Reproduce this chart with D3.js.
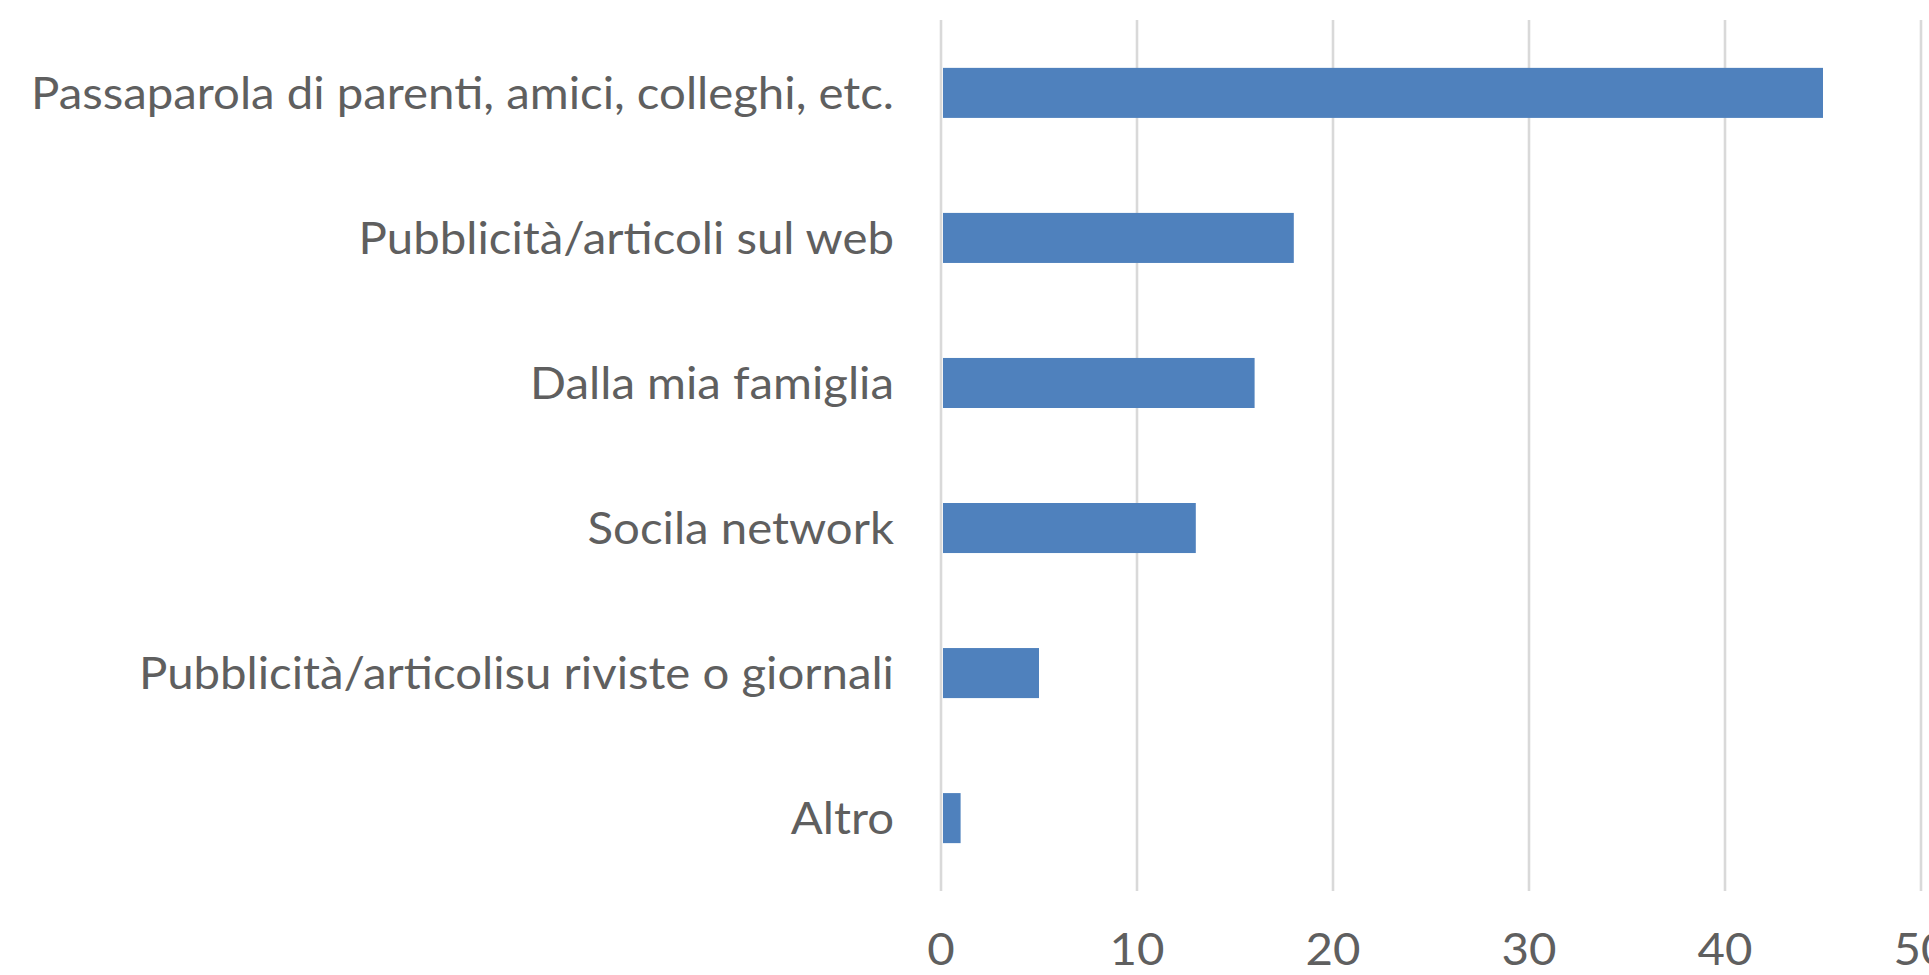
<!DOCTYPE html>
<html>
<head>
<meta charset="utf-8">
<script src="https://cdn.jsdelivr.net/npm/d3@7"></script>
<style>
  html, body { margin: 0; padding: 0; background: #fff; overflow: hidden; }
  text { font-family: Lato, "Open Sans", sans-serif; fill: #5f5f5f; }
</style>
</head>
<body>
<svg width="1929" height="975"></svg>
<script>
// data
const categories = [
  "Passaparola di parenti, amici, colleghi, etc.",
  "Pubblicità/articoli sul web",
  "Dalla mia famiglia",
  "Socila network",
  "Pubblicità/articolisu riviste o giornali",
  "Altro"
];
const values = [45, 18, 16, 13, 5, 1];
const xTicks = [0, 10, 20, 30, 40, 50];

const svg = d3.select("svg");
const plotLeft = 941, plotRight = 1921, plotTop = 20, plotBottom = 891;

const x = d3.scaleLinear().domain([0, 50]).range([plotLeft, plotRight]);
const y = d3.scaleBand().domain(categories).range([plotTop, plotBottom]).paddingInner(0.655).paddingOuter(0.33);

// gridlines
svg.append("g").selectAll("line")
  .data(xTicks)
  .join("line")
    .attr("x1", d => x(d)).attr("x2", d => x(d))
    .attr("y1", plotTop).attr("y2", plotBottom)
    .attr("stroke", "#d9d9d9")
    .attr("stroke-width", 2.6);

// bars
svg.append("g").selectAll("rect")
  .data(categories)
  .join("rect")
    .attr("x", x(0) + 2)
    .attr("y", d => y(d))
    .attr("width", (d, i) => x(values[i]) - x(0) - 2)
    .attr("height", y.bandwidth())
    .attr("fill", "#4f81bd");

// category labels
const fs = 44;
const labels = svg.append("g").selectAll("text")
  .data(categories)
  .join("text")
    .attr("x", 894)
    .attr("y", d => y(d) + y.bandwidth() / 2)
    .attr("dy", "0.36em")
    .attr("text-anchor", "end")
    .style("font-size", fs + "px")
    .text(d => d);

// squeeze to the narrow width of the original font
const target = 863;
const w0 = labels.filter((d, i) => i === 0).node().getComputedTextLength();
const k = target / w0;
labels.attr("textLength", function() { return this.getComputedTextLength() * k; })
  .attr("lengthAdjust", "spacingAndGlyphs");

// x tick labels
const tl = svg.append("g").selectAll("text")
  .data(xTicks)
  .join("text")
    .attr("x", d => x(d))
    .attr("y", 965)
    .attr("text-anchor", "middle")
    .style("font-size", fs + "px")
    .text(d => d);
tl.attr("textLength", function() { return this.getComputedTextLength() * k; })
  .attr("lengthAdjust", "spacingAndGlyphs");
</script>
</body>
</html>
